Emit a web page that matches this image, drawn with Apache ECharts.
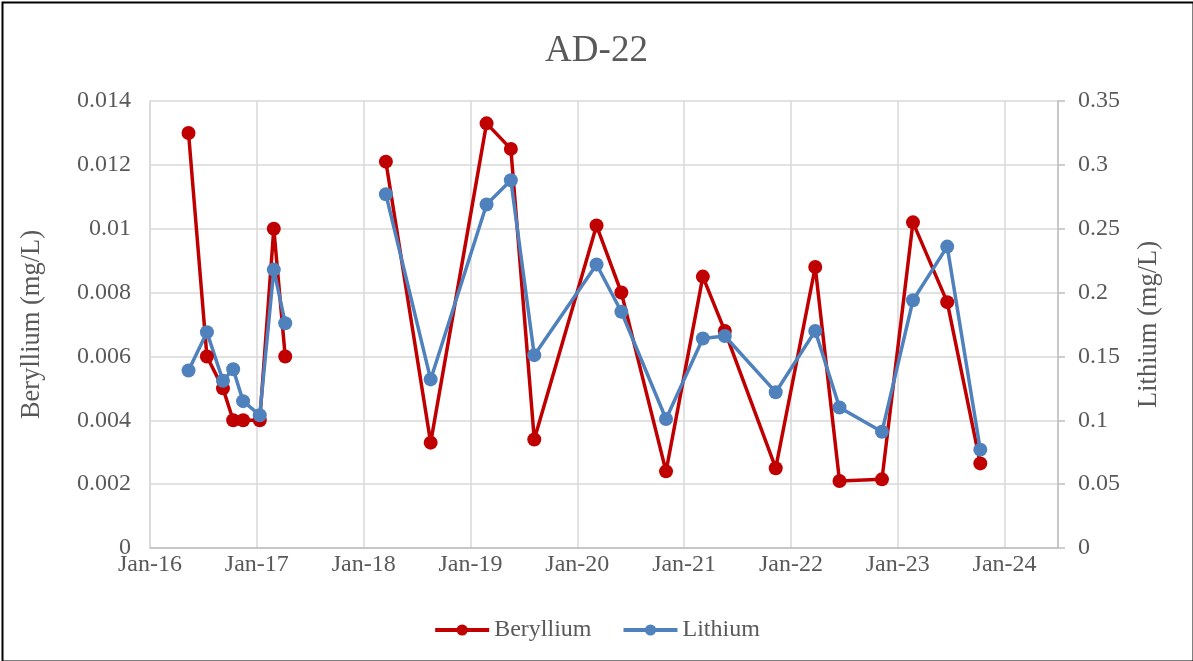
<!DOCTYPE html>
<html>
<head>
<meta charset="utf-8">
<script src="https://cdn.jsdelivr.net/npm/echarts@6/dist/echarts.min.js"></script>
<style>
html,body{margin:0;padding:0;background:#fff;}
#c{width:1193px;height:661px;}
</style>
</head>
<body>
<div id="c"></div>
<script>
// null entry marks the gap in sampling (line is broken there in the source chart)
const sampleDates = ["2016-05-12","2016-07-14","2016-09-07","2016-10-12","2016-11-15","2017-01-11","2017-02-28","2017-04-08",
  "2017-09-30",
  "2018-03-18","2018-08-18","2019-02-25","2019-05-19","2019-08-07","2020-03-07","2020-05-31","2020-10-31",
  "2021-03-06","2021-05-20","2021-11-10","2022-03-25","2022-06-16","2022-11-08","2023-02-22","2023-06-19","2023-10-10"];
const beryllium = [0.013,0.006,0.005,0.004,0.004,0.004,0.010,0.006,
  null,
  0.0121,0.0033,0.0133,0.0125,0.0034,0.0101,0.0080,0.0024,
  0.0085,0.0068,0.0025,0.0088,0.0021,0.00215,0.0102,0.0077,0.00265];
const lithium = [0.139,0.169,0.131,0.140,0.115,0.104,0.218,0.176,
  null,
  0.277,0.132,0.269,0.288,0.151,0.222,0.185,0.101,
  0.164,0.166,0.122,0.170,0.110,0.091,0.194,0.236,0.077];
const xTickYears = [2016,2017,2018,2019,2020,2021,2022,2023,2024];

function toYear(s){
  const d = new Date(s + "T00:00:00Z");
  const y = d.getUTCFullYear();
  const a = Date.UTC(y,0,1), b = Date.UTC(y+1,0,1);
  return y + (d.getTime()-a)/(b-a);
}
const xs = sampleDates.map(toYear);
const beData = xs.map((x,i)=>[x,beryllium[i]]);
const liData = xs.map((x,i)=>[x,lithium[i]]);

const font = "'Liberation Serif','Times New Roman',serif";
const txt = '#595959';
const gridCol = '#D9D9D9';
const axisCol = '#BFBFBF';

const chart = echarts.init(document.getElementById('c'));
chart.setOption({
  animation:false,
  backgroundColor:'#fff',
  graphic:[{type:'rect',left:0,top:0,shape:{x:1,y:1,width:1191,height:659},
    style:{fill:'none',stroke:'#000',lineWidth:2},silent:true}],
  title:{text:'AD-22',left:'center',top:28,
    textStyle:{fontFamily:font,fontSize:37,fontWeight:'normal',color:txt}},
  legend:{bottom:14,left:'center',itemWidth:54,itemHeight:14,itemGap:30,
    lineStyle:{width:4},
    textStyle:{fontFamily:font,fontSize:24,color:txt},
    data:['Beryllium','Lithium']},
  grid:{left:150,right:135,top:101,bottom:113,containLabel:false},
  xAxis:{type:'value',min:2016,max:2024.5,interval:1,
    axisLine:{show:true,lineStyle:{color:axisCol,width:1.5}},
    axisTick:{show:false},
    splitLine:{show:true,lineStyle:{color:gridCol,width:1.5}},
    axisLabel:{fontFamily:font,fontSize:24,color:txt,margin:5,
      formatter:v=> xTickYears.includes(Math.round(v)) && Math.abs(v-Math.round(v))<1e-6 ? 'Jan-'+String(Math.round(v)%100).padStart(2,'0') : ''}},
  yAxis:[
    {type:'value',min:0,max:0.014,interval:0.002,position:'left',
      name:'Beryllium (mg/L)',nameLocation:'middle',nameGap:104,nameRotate:90,
      nameTextStyle:{fontFamily:font,fontSize:26.5,color:txt},
      axisLine:{show:true,lineStyle:{color:gridCol,width:1.5}},axisTick:{show:false},
      splitLine:{show:true,lineStyle:{color:gridCol,width:1.5}},
      axisLabel:{fontFamily:font,fontSize:24,color:txt,margin:19}},
    {type:'value',min:0,max:0.35,interval:0.05,position:'right',
      name:'Lithium (mg/L)',nameLocation:'middle',nameGap:78,nameRotate:90,
      nameTextStyle:{fontFamily:font,fontSize:26.5,color:txt},
      axisLine:{show:true,lineStyle:{color:axisCol,width:1.5}},
      axisTick:{show:true,length:7,inside:false,lineStyle:{color:axisCol,width:1.5}},
      splitLine:{show:false},
      axisLabel:{fontFamily:font,fontSize:24,color:txt,margin:20}}
  ],
  series:[
    {name:'Beryllium',type:'line',yAxisIndex:0,data:beData,connectNulls:false,
      symbol:'circle',symbolSize:14,
      lineStyle:{color:'#C00000',width:3.5},itemStyle:{color:'#C00000'}},
    {name:'Lithium',type:'line',yAxisIndex:1,data:liData,connectNulls:false,
      symbol:'circle',symbolSize:14,
      lineStyle:{color:'#4F81BD',width:3.5},itemStyle:{color:'#4F81BD'}}
  ]
});
</script>
</body>
</html>
